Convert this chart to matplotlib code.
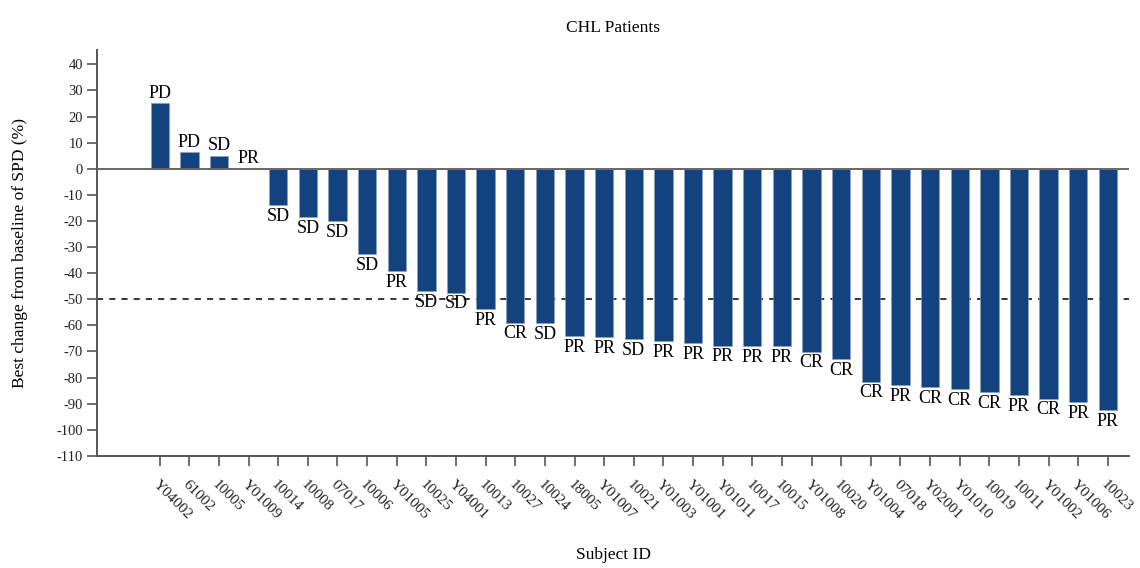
import numpy as np
from matplotlib import pyplot as plt

plt.rcParams['font.family'] = ['Liberation Serif', 'DejaVu Serif']
plt.rcParams['axes.unicode_minus'] = False

#---- Data

subjects = ['Y04002', '61002', '10005', 'Y01009', '10014', '10008', '07017',
            '10006', 'Y01005', '10025', 'Y04001', '10013', '10027', '10024',
            '18005', 'Y01007', '10021', 'Y01003', 'Y01001', 'Y01011', '10017',
            '10015', 'Y01008', '10020', 'Y01004', '07018', 'Y02001', 'Y01010',
            '10019', '10011', 'Y01002', 'Y01006', '10023']

change = [25.0, 6.4, 5.0, 0.0, -13.9, -18.6, -20.2, -32.8, -39.2, -46.9,
          -47.5, -53.9, -59.0, -59.1, -64.0, -64.5, -65.4, -66.0, -66.9,
          -67.8, -67.9, -68.1, -70.1, -72.8, -81.6, -82.9, -83.6, -84.3,
          -85.7, -86.8, -88.1, -89.3, -92.5]

response = ['PD', 'PD', 'SD', 'PR', 'SD', 'SD', 'SD', 'SD', 'PR', 'SD', 'SD',
            'PR', 'CR', 'SD', 'PR', 'PR', 'SD', 'PR', 'PR', 'PR', 'PR', 'PR',
            'CR', 'CR', 'CR', 'PR', 'CR', 'CR', 'CR', 'PR', 'CR', 'PR', 'PR']

yticks = list(range(40, -111, -10))

bar_color = '#12427f'
axis_color = '#555555'


#---- Plot

def plot_waterfall(ax, names, vals, labels):

    x = np.arange(len(names))
    ax.bar(x, vals, width=0.62, color=bar_color, edgecolor='#8aa0c0',
           linewidth=0.4, zorder=2)

    for xi, v, lab in zip(x, vals, labels):
        if v >= 0:
            ax.annotate(lab, (xi, v), xytext=(0, 1), textcoords='offset points',
                        ha='center', va='bottom', fontsize=13)
        else:
            ax.annotate(lab, (xi, v), xytext=(0, -2), textcoords='offset points',
                        ha='center', va='top', fontsize=13)

    ax.axhline(0, color='#666666', linewidth=1.4, zorder=3)
    ax.axhline(-50, color='black', linewidth=1.1, linestyle=(0, (4, 4)), zorder=1)

    ax.set_xlim(-2.1, len(names) - 0.3)
    ax.set_ylim(-110, 45.5)
    ax.set_yticks(yticks)
    ax.set_xticks(x)
    ax.set_xticklabels(names, rotation=-45, ha='left', va='top',
                       rotation_mode='anchor', fontsize=11)
    ax.tick_params(axis='y', labelsize=10.5)

    for side in ['top', 'right']:
        ax.spines[side].set_visible(False)
    for side in ['left', 'bottom']:
        ax.spines[side].set_color(axis_color)
        ax.spines[side].set_linewidth(1.4)
    ax.tick_params(which='both', direction='out', length=7, width=1.2,
                   color=axis_color, colors='#222222')
    ax.tick_params(axis='x', pad=9)

    ax.set_title('CHL Patients', fontsize=12.5, pad=13)
    ax.set_xlabel('Subject ID', fontsize=12.5, labelpad=18)
    ax.set_ylabel('Best change from baseline of SPD (%)', fontsize=12.5, labelpad=20)

    return ax


if __name__ == '__main__':

    fig = plt.figure(figsize=(11.4, 5.68), dpi=100)
    ax = fig.add_axes([0.0855, 0.1975, 0.9045, 0.7145])
    plot_waterfall(ax, subjects, change, response)
    fig.savefig('out.png', dpi=100)
